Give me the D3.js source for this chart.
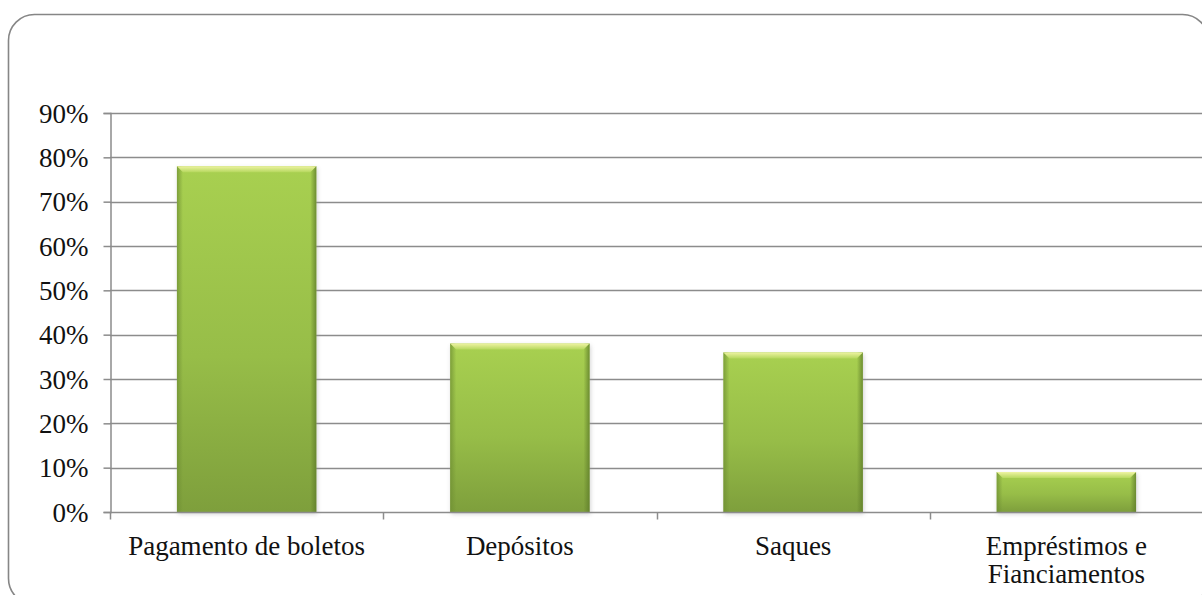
<!DOCTYPE html>
<html>
<head>
<meta charset="utf-8">
<script src="https://cdnjs.cloudflare.com/ajax/libs/d3/7.8.5/d3.min.js"></script>
<style>
  html, body { margin: 0; padding: 0; background: #fff; }
  svg { display: block; }
  svg text { font-family: "Times New Roman", Times, "Liberation Serif", Tinos, "Nimbus Roman", "Nimbus Roman No9 L", "DejaVu Serif", "Noto Serif", serif; }
</style>
</head>
<body>
<svg id="chart" width="1202" height="595"></svg>
<script>
// Share of transactions by service type
const categories = ["Pagamento de boletos", "Depósitos", "Saques", "Empréstimos e Fianciamentos"];
const categoryLines = [["Pagamento de boletos"], ["Depósitos"], ["Saques"], ["Empréstimos e", "Fianciamentos"]];
const values = [0.78, 0.38, 0.36, 0.09];
const yTicks = [0, 0.1, 0.2, 0.3, 0.4, 0.5, 0.6, 0.7, 0.8, 0.9];

const svg = d3.select("#chart");
const fontSize = 27;
const fontStack = "'Times New Roman', Times, 'Liberation Serif', Tinos, 'DejaVu Serif', serif";

// Outer rounded frame
svg.append("rect")
  .attr("x", 8.5).attr("y", 14.5)
  .attr("width", 1200).attr("height", 590)
  .attr("rx", 26).attr("ry", 26)
  .attr("fill", "#fff")
  .attr("stroke", "#868686")
  .attr("stroke-width", 1.6);

const plot = { left: 110, right: 1203, top: 113, bottom: 512 };

const x = d3.scaleBand()
  .domain(categories)
  .range([plot.left, plot.right])
  .paddingInner(0.49)
  .paddingOuter(0.245);

const y = d3.scaleLinear()
  .domain([0, 0.9])
  .range([plot.bottom, plot.top]);

// Gradients for the bevelled bars
const defs = svg.append("defs");
const bodyGrad = defs.append("linearGradient").attr("id", "barBody")
  .attr("x1", 0).attr("y1", 0).attr("x2", 0).attr("y2", 1);
bodyGrad.append("stop").attr("offset", "0%").attr("stop-color", "#a8d050");
bodyGrad.append("stop").attr("offset", "55%").attr("stop-color", "#97bd48");
bodyGrad.append("stop").attr("offset", "100%").attr("stop-color", "#7e9f3c");

const topGrad = defs.append("linearGradient").attr("id", "barTop")
  .attr("x1", 0).attr("y1", 0).attr("x2", 0).attr("y2", 1);
topGrad.append("stop").attr("offset", "0%").attr("stop-color", "#eef3a2");
topGrad.append("stop").attr("offset", "100%").attr("stop-color", "#b6d85e");

const leftGrad = defs.append("linearGradient").attr("id", "barLeft")
  .attr("x1", 0).attr("y1", 0).attr("x2", 1).attr("y2", 0);
leftGrad.append("stop").attr("offset", "0%").attr("stop-color", "#6f8f33").attr("stop-opacity", 0.75);
leftGrad.append("stop").attr("offset", "100%").attr("stop-color", "#6f8f33").attr("stop-opacity", 0);

const rightGrad = defs.append("linearGradient").attr("id", "barRight")
  .attr("x1", 1).attr("y1", 0).attr("x2", 0).attr("y2", 0);
rightGrad.append("stop").attr("offset", "0%").attr("stop-color", "#5f7d2a").attr("stop-opacity", 0.8);
rightGrad.append("stop").attr("offset", "100%").attr("stop-color", "#5f7d2a").attr("stop-opacity", 0);

const shadow = defs.append("filter").attr("id", "shadow")
  .attr("x", "-10%").attr("y", "-10%").attr("width", "120%").attr("height", "120%");
shadow.append("feGaussianBlur").attr("stdDeviation", 2);

// Gridlines
svg.append("g")
  .selectAll("line")
  .data(yTicks.slice(1))
  .join("line")
  .attr("x1", plot.left).attr("x2", plot.right)
  .attr("y1", d => Math.round(y(d)) + 0.5).attr("y2", d => Math.round(y(d)) + 0.5)
  .attr("stroke", "#8c8c8c").attr("stroke-width", 1.5);

// Y axis
const yAxis = svg.append("g")
  .attr("transform", `translate(${plot.left + 0.5},0)`)
  .call(d3.axisLeft(y).tickValues(yTicks).tickFormat(d3.format(".0%")).tickSize(7).tickPadding(15));
yAxis.attr("font-family", fontStack).attr("font-size", fontSize);
yAxis.select(".domain").attr("stroke", "#8c8c8c").attr("stroke-width", 1.5);
yAxis.selectAll(".tick line").attr("stroke", "#8c8c8c").attr("stroke-width", 1.5);
yAxis.selectAll(".tick text")
  .attr("font-family", fontStack)
  .attr("font-size", fontSize).attr("fill", "#111").attr("dy", "0.34em");

// Bars
const bars = svg.append("g").selectAll("g.bar")
  .data(categories.map((c, i) => ({ c, v: values[i] })))
  .join("g").attr("class", "bar");

bars.append("rect")
  .attr("x", d => x(d.c) + 1).attr("y", d => y(d.v) + 2)
  .attr("width", x.bandwidth()).attr("height", d => y(0) - y(d.v))
  .attr("fill", "#9a9a9a").attr("opacity", 0.45).attr("filter", "url(#shadow)");

bars.append("rect")
  .attr("x", d => x(d.c)).attr("y", d => y(d.v))
  .attr("width", x.bandwidth()).attr("height", d => y(0) - y(d.v))
  .attr("fill", "url(#barBody)");

bars.append("rect")
  .attr("x", d => x(d.c)).attr("y", d => y(d.v))
  .attr("width", 6).attr("height", d => y(0) - y(d.v))
  .attr("fill", "url(#barLeft)");

bars.append("rect")
  .attr("x", d => x(d.c) + x.bandwidth() - 6).attr("y", d => y(d.v))
  .attr("width", 6).attr("height", d => y(0) - y(d.v))
  .attr("fill", "url(#barRight)");

bars.append("path")
  .attr("d", d => {
    const x0 = x(d.c), x1 = x0 + x.bandwidth(), t = y(d.v);
    return `M${x0},${t} L${x1},${t} L${x1 - 6},${t + 6} L${x0 + 6},${t + 6} Z`;
  })
  .attr("fill", "url(#barTop)");

// X axis
const xAxis = svg.append("g")
  .attr("transform", `translate(0,${Math.round(y(0)) + 0.5})`);
xAxis.append("line")
  .attr("x1", plot.left).attr("x2", plot.right)
  .attr("stroke", "#8c8c8c").attr("stroke-width", 1.5);
const boundaries = d3.range(categories.length).map(i => plot.left + i * x.step());
xAxis.selectAll("line.tick")
  .data(boundaries)
  .join("line").attr("class", "tick")
  .attr("x1", d => Math.round(d) + 0.5).attr("x2", d => Math.round(d) + 0.5)
  .attr("y1", 0).attr("y2", 7)
  .attr("stroke", "#8c8c8c").attr("stroke-width", 1.5);

// Category labels
svg.append("g").selectAll("text")
  .data(categories.map((c, i) => ({ c, lines: categoryLines[i] })))
  .join("text")
  .attr("x", d => x(d.c) + x.bandwidth() / 2)
  .attr("y", 555)
  .attr("text-anchor", "middle")
  .attr("font-family", fontStack)
  .attr("font-size", fontSize).attr("fill", "#111")
  .selectAll("tspan")
  .data(d => d.lines.map(l => ({ l, cx: x(d.c) + x.bandwidth() / 2 })))
  .join("tspan")
  .attr("x", d => d.cx)
  .attr("dy", (d, i) => i === 0 ? 0 : 28)
  .text(d => d.l);
</script>
</body>
</html>
